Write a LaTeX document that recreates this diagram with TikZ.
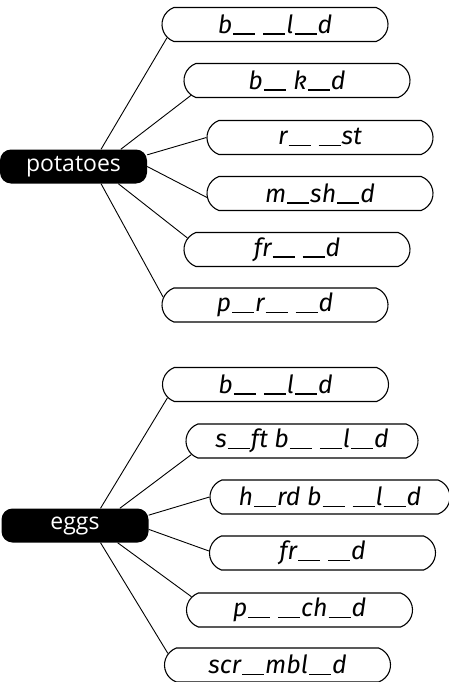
\documentclass[tikz,border=0pt]{standalone}
\usepackage{fontspec}
\setmainfont{Fira Sans}
\newfontfamily\handfont{Fira Sans}
\newfontfamily\labfont{Open Sans}
\usetikzlibrary{shapes.misc}
\newcommand\bk{\kern1pt\rule[-1.5pt]{22pt}{1.6pt}\kern1pt}
\newcommand\gp{\hspace{6pt}}
\begin{document}
\begin{tikzpicture}[x=1pt,y=1pt,
  word/.style={rounded rectangle, rounded rectangle arc length=140, draw, line width=1.1pt,
    minimum height=34pt, minimum width=226pt, inner sep=0pt,
    font=\handfont\itshape\fontsize{25}{25}\selectfont},
  topic/.style={fill=black, rounded corners=11pt, minimum height=34pt, minimum width=147pt,
    inner sep=0pt, text=white, font=\labfont\fontsize{23}{23}\selectfont},
  link/.style={line width=0.9pt}]
\useasboundingbox (0,0) rectangle (448,-682);
% potatoes
\node[topic] (pot) at (73.5,-166.5) {potatoes};
\node[word] (p1) at (275,-24.5) {b\bk\gp\bk l\bk d};
\node[word] (p2) at (297,-80.5) {b\bk\ k\bk d};
\node[word] (p3) at (320,-137.5) {r\bk\gp\bk st};
\node[word] (p4) at (320,-193.5) {m\bk sh\bk d};
\node[word] (p5) at (297,-249.5) {fr\bk\gp\bk d};
\node[word] (p6) at (275,-305) {p\bk r\bk\gp\bk d};
\draw[link] (pot.32) -- (p1.187);
\draw[link] (pot.20) -- (p2.188);
\draw[link] (pot.9) -- (p3.west);
\draw[link] (pot.east) -- (p4.182);
\draw[link] (pot.-21) -- (p5.174);
\draw[link] (pot.-32) -- (p6.176);
% eggs
\node[topic] (egg) at (75,-525.5) {eggs};
\node[word] (e1) at (275.5,-384.5) {b\bk\gp\bk l\bk d};
\node[word, minimum width=232pt] (e2) at (302,-441) {s\bk ft b\bk\gp\bk l\bk d};
\node[word, minimum width=240pt] (e3) at (330,-497) {h\bk rd b\bk\gp\bk l\bk d};
\node[word] (e4) at (322.5,-553) {fr\bk\gp\bk d};
\node[word] (e5) at (299.5,-610) {p\bk\gp\bk ch\bk d};
\node[word] (e6) at (277.5,-665) {scr\bk mbl\bk d};
\draw[link] (egg.34) -- (e1.187);
\draw[link] (egg.21) -- (e2.187);
\draw[link] (egg.8) -- (e3.west);
\draw[link] (egg.-3.5) -- (e4.179);
\draw[link] (egg.-22.6) -- (e5.173);
\draw[link] (egg.-34) -- (e6.174);
\end{tikzpicture}
\end{document}
